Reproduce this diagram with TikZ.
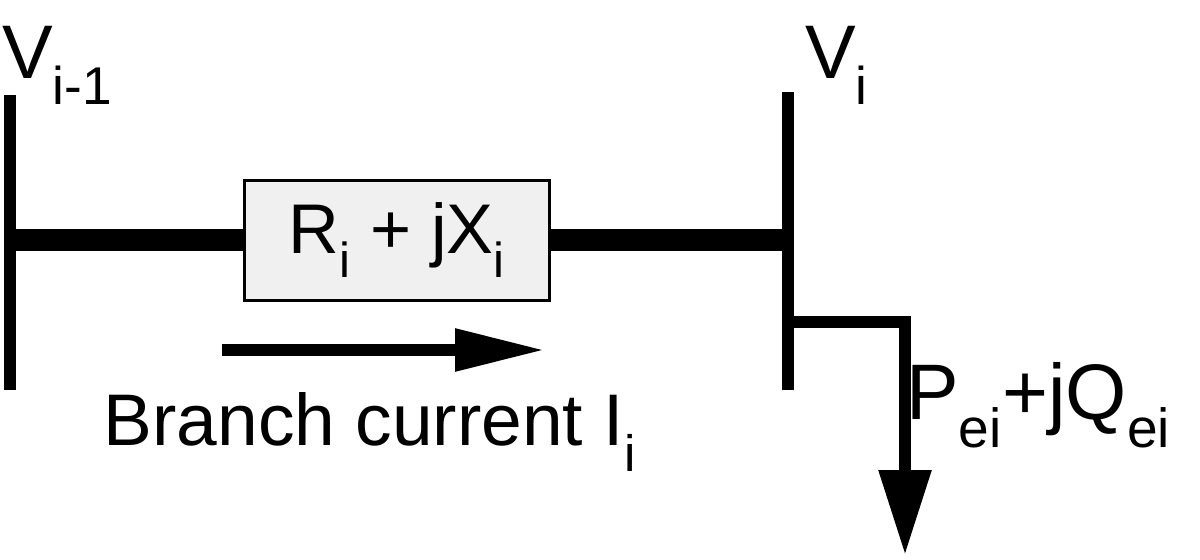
\documentclass[tikz,border=0pt]{standalone}
\usepackage{fontspec}
\setmainfont{Liberation Sans}
\usetikzlibrary{arrows.meta}
\begin{document}
\begin{tikzpicture}[x=0.025cm,y=-0.025cm,
 bus/.style={line width=12*0.025cm},
 line/.style={line width=22*0.025cm},
 lbl/.style={inner sep=0,font=\fontsize{52}{56}\selectfont},
 big/.style={inner sep=0,font=\fontsize{54}{58}\selectfont}]
\useasboundingbox (0,0) rectangle (1200,559);
\coordinate (b1t) at (10,95); \coordinate (b1b) at (10,390);
\coordinate (b2t) at (788,92); \coordinate (b2b) at (788,390);
\draw[bus] (b1t) -- (b1b);
\draw[bus] (b2t) -- (b2b);
\node[draw,line width=3*0.025cm,fill=gray!12,minimum width=305*0.025cm,minimum height=120*0.025cm,inner sep=0,font=\fontsize{50}{54}\selectfont] (z) at (397,240) {R\textsubscript{i} + jX\textsubscript{i}};
\draw[line] (b1t|-z.west) -- (z.west);
\draw[line] (z.east) -- (b2t|-z.east);
\coordinate (a1) at (222,350); \coordinate (a2) at (545,350);
\draw[line width=12*0.025cm,-{Triangle[length=90*0.025cm,width=40*0.025cm]}] (a1) -- (a2);
\node[lbl] (bc) at (370,432) {Branch current I\textsubscript{i}};
\node[big,anchor=base west] (v1) at (2,78) {V\textsubscript{i-1}};
\node[big,anchor=base west] (v2) at (805,78) {V\textsubscript{i}};
\coordinate (l1) at (788,322); \coordinate (l2) at (905,322); \coordinate (l3) at (905,555);
\draw[bus,-{Triangle[length=85*0.025cm,width=50*0.025cm]}] (l1) -- (l2) -- (l3);
\node[inner sep=0,font=\fontsize{56}{60}\selectfont,anchor=west] (p) at (906,405) {P\textsubscript{ei}+jQ\textsubscript{ei}};
\end{tikzpicture}
\end{document}
